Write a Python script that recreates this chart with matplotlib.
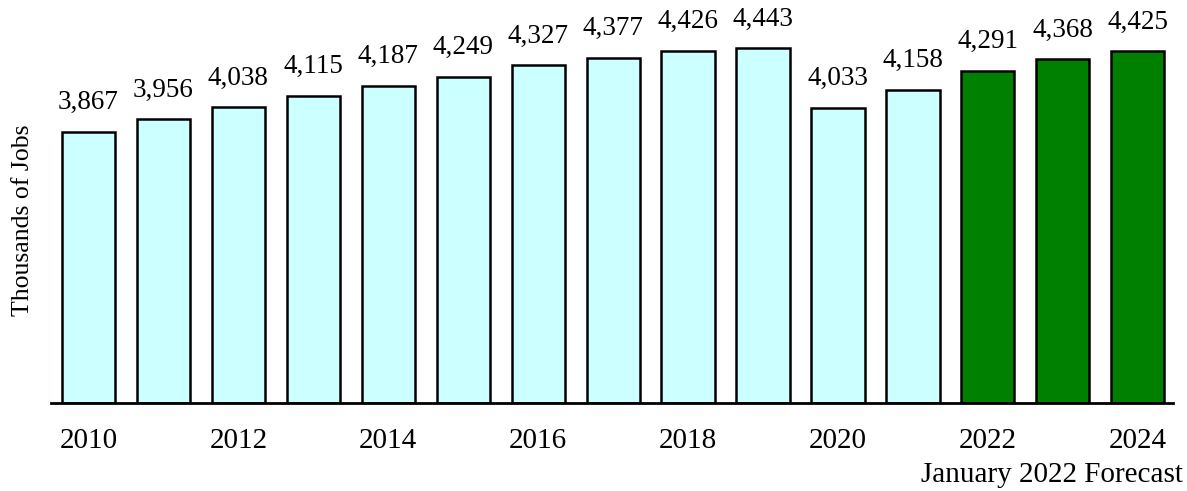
import numpy as np
import matplotlib.pyplot as plt

#---------------------------------------------------------- data
years    = [2010, 2011, 2012, 2013, 2014, 2015, 2016, 2017, 2018, 2019, 2020, 2021, 2022, 2023, 2024]
jobs     = [3867, 3956, 4038, 4115, 4187, 4249, 4327, 4377, 4426, 4443, 4033, 4158, 4291, 4368, 4425]
forecast = [False]*12 + [True]*3
tick_years = [2010, 2012, 2014, 2016, 2018, 2020, 2022, 2024]

#---------------------------------------------------------- plotting
plt.rcParams['font.family'] = ['Liberation Serif', 'DejaVu Serif']

fig = plt.figure(figsize=(11.87, 4.91), dpi=100)
ax = fig.add_axes([51/1187, 88/491, 1122/1187, 403/491])

base = 2000
colors = ["#008000" if f else "#CCFFFF" for f in forecast]
heights = [v - base for v in jobs]
bars = ax.bar(years, heights, bottom=base, width=0.71, color=colors,
              edgecolor="black", linewidth=1.8, zorder=2)

for yr, v in zip(years, jobs):
    ax.annotate("{:,}".format(v), (yr, v), xytext=(0, 12), textcoords="offset points",
                ha="center", va="bottom", fontsize=19.5)

ax.set_xlim(2009.5, 2024.47)
ax.set_ylim(base, 4777)

ax.set_xticks(tick_years)
ax.set_xticklabels([str(t) for t in tick_years], fontsize=21)
ax.tick_params(axis="x", length=0, pad=18)
ax.set_yticks([])

for s in ["top", "right", "left"]:
    ax.spines[s].set_visible(False)
ax.spines["bottom"].set_linewidth(2)

ax.set_ylabel("Thousands of Jobs", fontsize=18.5)
ax.yaxis.set_label_coords(-0.015, 0.454)

fig.text(1183/1187, 1 - 475/491, "January 2022 Forecast", ha="right", va="center", fontsize=21)

fig.savefig("out.png", dpi=100)
